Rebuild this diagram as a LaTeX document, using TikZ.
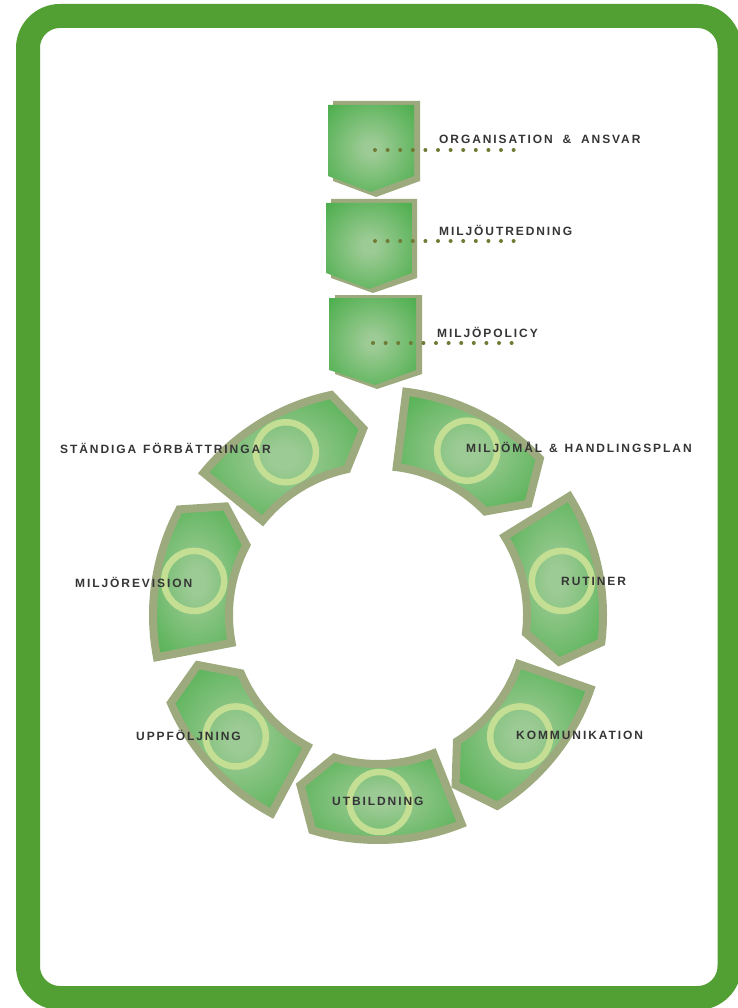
\documentclass[tikz,border=0pt]{standalone}
\usepackage{fontspec}
\newfontfamily\lblfont{Liberation Sans}[LetterSpace=16, WordSpace=1.3]
\definecolor{frameGreen}{HTML}{52A033}
\definecolor{segOlive}{HTML}{9DAA7E}
\definecolor{dotOlive}{HTML}{6E7B34}
\definecolor{ringLight}{HTML}{C4DF94}
\definecolor{txtGray}{HTML}{353535}
\definecolor{segLight}{HTML}{9DCB95}
\definecolor{segDark}{HTML}{4FAF4F}
\pgfdeclareradialshading{segshade}{\pgfpoint{0bp}{0bp}}{color(0bp)=(segLight); color(4bp)=(segLight); color(34bp)=(segDark); color(50bp)=(segDark)}
\tikzset{
  lbl/.style={anchor=west, inner sep=0pt, text=txtGray, font=\lblfont\bfseries\fontsize{12pt}{14pt}\selectfont},
  dotline/.style={dotOlive, line width=4pt, line cap=round, dash pattern=on 0pt off 12.6pt},
  backshape/.style={fill=segOlive},
  frontshape/.style={shading=segshade},
  segshape/.style={draw=segOlive, line width=8pt, line join=miter, shading=segshade},
  ringc/.style={circle, draw=ringLight, line width=6.5pt, minimum size=60pt, inner sep=0pt}
}
\begin{document}
\begin{tikzpicture}[x=1pt, y=-1pt]
\useasboundingbox (0,0) rectangle (737,1008);
% frame
\draw[frameGreen, line width=24pt, rounded corners=32pt] (28,16) rectangle (729.5,998);

% top pentagons
\fill[backshape] (333,101) -- (420,101) -- (420,181) -- (376,197) -- (333,181) -- cycle;
\shade[frontshape] (328,105) -- (414,105) -- (414,176) -- (371,192) -- (328,176) -- cycle;
\fill[backshape] (331,199) -- (417,199) -- (417,278) -- (373,293) -- (331,278) -- cycle;
\shade[frontshape] (326,203) -- (412,203) -- (412,273) -- (369,289) -- (326,273) -- cycle;
\fill[backshape] (335,295) -- (422,295) -- (422,374) -- (377,389) -- (335,374) -- cycle;
\shade[frontshape] (329,298) -- (416,298) -- (416,370) -- (375,385) -- (329,370) -- cycle;

% ring segments
\begin{scope}[shift={(378,615)}]
\foreach \S/\nm [evaluate=\S as \a using \S-1.2, evaluate=\S as \c using \S-40,
                 evaluate=\S as \t using \S-47.5, evaluate=\S as \m using \S-22.5]
  in {142/sa,84/sb,33/sc,-18/sd,-67/se,-117/sf,-168/sg} {
  \path[segshape] (\a:225pt) arc[start angle=\a, end angle=\c, radius=225pt]
     -- (\t:187pt) -- (\c:149pt) arc[start angle=\c, end angle=\a, radius=149pt] -- cycle;
  \node[ringc] (c\nm) at (\m:187pt) {};
}
\end{scope}

% dotted connectors
\coordinate (p1) at (375,150); \coordinate (q1) at (515,150);
\coordinate (p2) at (375,241); \coordinate (q2) at (515,241);
\coordinate (p3) at (373,343); \coordinate (q3) at (513,343);
\draw[dotline] (p1) -- (q1);
\draw[dotline] (p2) -- (q2);
\draw[dotline] (p3) -- (q3);

% labels
\node[lbl] (l1) at (439,139) {ORGANISATION\hspace{3pt} \&\hspace{3pt} ANSVAR};
\node[lbl] (l2) at (439,230) {MILJÖUTREDNING};
\node[lbl] (l3) at (437,332) {MILJÖPOLICY};
\node[lbl] (l4) at (60,448) {STÄNDIGA FÖRBÄTTRINGAR};
\node[lbl] (l5) at (466,447) {MILJÖMÅL \& HANDLINGSPLAN};
\node[lbl] (l6) at (75,582) {MILJÖREVISION};
\node[lbl] (l7) at (561,581) {RUTINER};
\node[lbl] (l8) at (136,735) {UPPFÖLJNING};
\node[lbl] (l9) at (516,735) {KOMMUNIKATION};
\node[lbl] (l10) at (332,801) {UTBILDNING};
\end{tikzpicture}
\end{document}
